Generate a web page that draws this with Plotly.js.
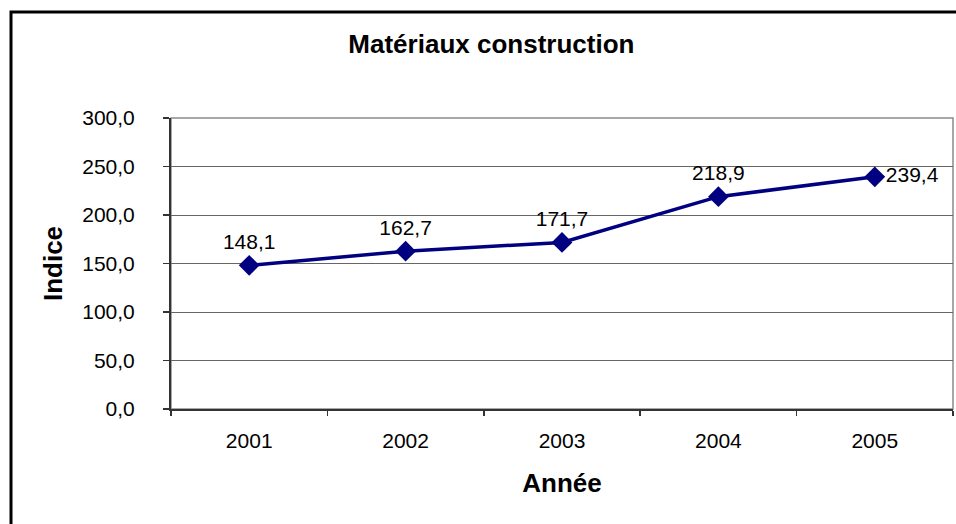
<!DOCTYPE html>
<html>
<head>
<meta charset="utf-8">
<script src="https://cdn.plot.ly/plotly-3.0.1.min.js"></script>
<style>
  html, body { margin: 0; padding: 0; background: #fff; }
  #chart { width: 956px; height: 524px; }
</style>
</head>
<body>
<div id="chart"></div>
<script>
// data
var years = ['2001', '2002', '2003', '2004', '2005'];
var indice = [148.1, 162.7, 171.7, 218.9, 239.4];

// where each value label sits relative to its point
var labelPos = ['top center', 'top center', 'top center', 'top center', 'middle right'];

var font = 'Liberation Sans, Arial, sans-serif';

var trace = {
  x: years,
  y: indice,
  type: 'scatter',
  mode: 'lines+markers+text',
  line: { color: '#000080', width: 3.5 },
  marker: { symbol: 'diamond', size: 16, color: '#000080' },
  texttemplate: '%{y:.1f}',
  textposition: labelPos,
  textfont: { family: font, size: 21, color: '#000' },
  cliponaxis: false,
  hoverinfo: 'x+y'
};

var layout = {
  width: 956,
  height: 524,
  paper_bgcolor: '#fff',
  plot_bgcolor: '#fff',
  showlegend: false,
  separators: ', ',
  margin: { l: 171, r: 3, t: 118, b: 115, autoexpand: false },
  title: {
    text: '<b>Matériaux construction</b>',
    font: { family: font, size: 26, color: '#000' },
    xref: 'container',
    yref: 'container',
    x: 0.514,
    xanchor: 'center',
    y: 0.916,
    yanchor: 'middle'
  },
  xaxis: {
    type: 'category',
    range: [-0.5, 4.5],
    showgrid: false,
    zeroline: false,
    showline: true,
    linecolor: '#333',
    linewidth: 2,
    ticks: 'outside',
    tickson: 'boundaries',
    ticklen: 5,
    tickcolor: '#333',
    tickwidth: 1.5,
    ticklabelstandoff: 12,
    tickfont: { family: font, size: 21, color: '#000' },
    title: {
      text: '<b>Année</b>',
      standoff: 23,
      font: { family: font, size: 26, color: '#000' }
    },
    fixedrange: true
  },
  yaxis: {
    range: [0, 300],
    dtick: 50,
    tickformat: '.1f',
    showgrid: true,
    gridcolor: '#666',
    gridwidth: 1,
    zeroline: false,
    showline: true,
    linecolor: '#333',
    linewidth: 2,
    ticks: 'outside',
    ticklen: 6,
    tickcolor: '#333',
    tickwidth: 1.5,
    ticklabelstandoff: 24,
    tickfont: { family: font, size: 21, color: '#000' },
    title: {
      text: '<b>Indice</b>',
      standoff: 12,
      font: { family: font, size: 26, color: '#000' }
    },
    fixedrange: true
  },
  shapes: [
    // plot area border
    {
      type: 'rect', xref: 'paper', yref: 'paper',
      x0: 0, x1: 1, y0: 0, y1: 1,
      line: { color: '#8c8c8c', width: 1.5 },
      layer: 'below'
    },
    // outer chart frame (right and bottom edges fall outside the picture)
    {
      type: 'rect', xref: 'paper', yref: 'paper',
      x0: -0.2046, x1: 1.1, y0: -0.6, y1: 1.3643,
      line: { color: '#000', width: 3 },
      layer: 'above'
    }
  ]
};

Plotly.newPlot('chart', [trace], layout, { displayModeBar: false, staticPlot: true });
</script>
</body>
</html>
